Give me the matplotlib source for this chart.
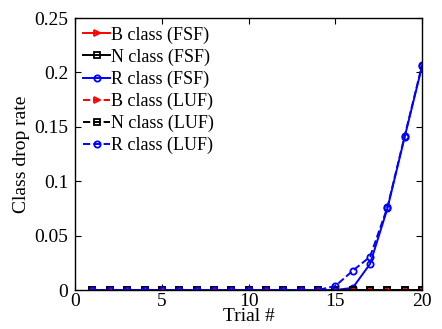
import numpy as np
import matplotlib
matplotlib.use("Agg")
import matplotlib.pyplot as plt

plt.rcParams['font.family'] = ['Liberation Serif', 'DejaVu Serif']

trials = np.arange(1, 21)
b_fsf = [0.0] * 20
n_fsf = [0.0] * 20
r_fsf = [0.0] * 15 + [0.002, 0.024, 0.075, 0.141, 0.206]
b_luf = [0.0] * 20
n_luf = [0.0] * 20
r_luf = [0.0] * 14 + [0.0037, 0.0177, 0.0306, 0.076, 0.142, 0.207]

fig = plt.figure(figsize=(4.42, 3.29), dpi=100)
ax = fig.add_axes([0.170, 0.1185, 0.785, 0.8265])

mk = dict(markersize=4.5, markerfacecolor='none', markeredgewidth=1.3, linewidth=1.4)
ax.plot(trials, b_fsf, '-', color='red', marker='>', label='B class (FSF)', **mk)
ax.plot(trials, n_fsf, '-', color='black', marker='s', label='N class (FSF)', **mk)
ax.plot(trials, r_fsf, '-', color='blue', marker='o', label='R class (FSF)', **mk)
ax.plot(trials, b_luf, '--', color='red', marker='>', label='B class (LUF)', **mk)
ax.plot(trials, n_luf, '--', color='black', marker='s', label='N class (LUF)', **mk)
ax.plot(trials, r_luf, '--', color='blue', marker='o', label='R class (LUF)', **mk)

ax.set_xlim(0, 20)
ax.set_ylim(0, 0.25)
ax.set_xticks([0, 5, 10, 15, 20])
ax.set_yticks([0, 0.05, 0.1, 0.15, 0.2, 0.25])
ax.set_yticklabels(['0', '0.05', '0.1', '0.15', '0.2', '0.25'])
ax.tick_params(direction='in', top=True, right=True, labelsize=14, length=4)
ax.tick_params(axis='x', pad=2)
ax.tick_params(axis='y', pad=5)
for s in ax.spines.values():
    s.set_linewidth(1.0)

ax.set_xlabel('Trial #', fontsize=14, labelpad=-1)
ax.set_ylabel('Class drop rate', fontsize=14, labelpad=3)

ax.legend(loc='upper left', frameon=False, fontsize=13, handlelength=1.5,
          handletextpad=0.05, labelspacing=0.27, borderaxespad=0.25, borderpad=0.2)

fig.savefig('out.png', dpi=100)
